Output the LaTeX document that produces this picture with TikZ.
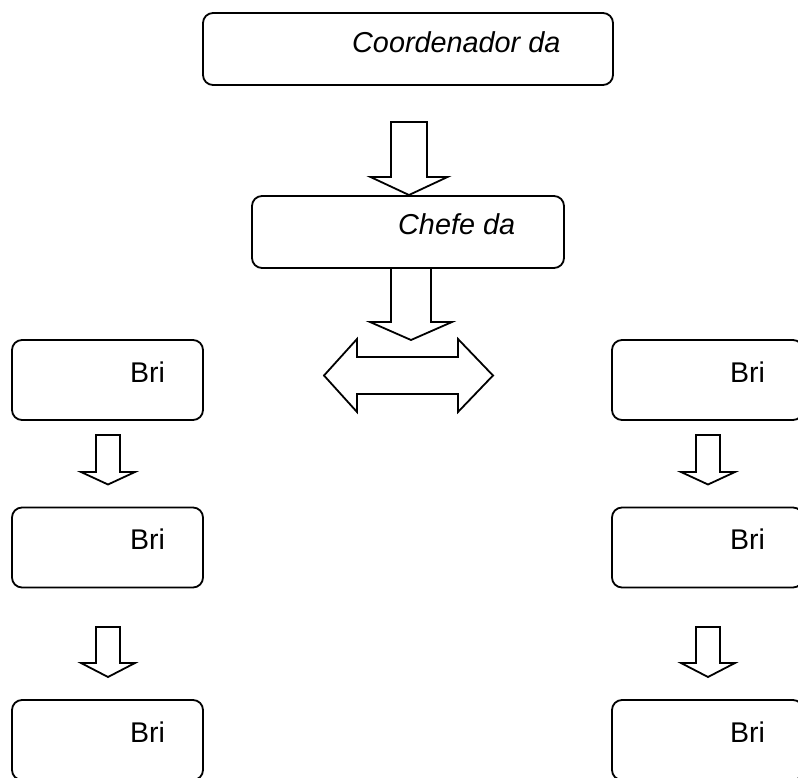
\documentclass[tikz,border=0pt]{standalone}
\usepackage{fontspec}
\setmainfont{Liberation Sans}
\usetikzlibrary{calc}

% hollow block arrow pointing down:
% #1 start (top centre), #2 shaft length, #3 head length, #4 shaft half width, #5 head half width
\newcommand\blkdown[5]{%
  \draw[blk] (#1) ++(-#4,0) -- ++(0,#2) -- ++({#4-#5},0) -- ++(#5,#3)
    -- ++(#5,-#3) -- ++({#4-#5},0) -- ++(0,-#2) -- cycle;}

\tikzset{
  box/.style={draw, rounded corners=10pt, line width=1.8pt, inner sep=0pt},
  lbl/.style={anchor=base west, inner sep=0pt, font=\fontsize{28.5}{34}\selectfont},
  ilbl/.style={anchor=base west, inner sep=0pt, font=\fontsize{28.8}{34}\selectfont\itshape},
  blk/.style={draw, line width=1.8pt, line join=miter, fill=white},
}

\begin{document}
\begin{tikzpicture}[x=1pt,y=-1pt]
\useasboundingbox (0,0) rectangle (798,778);
\clip (0,0) rectangle (798,778);

% boxes
\node[box, minimum width=410pt, minimum height=72pt] (coord) at (408,49) {};
\node[ilbl] (tcoord) at (352,53) {Coordenador da};

\node[box, minimum width=312pt, minimum height=72pt] (chefe) at (408,232) {};
\node[ilbl] (tchefe) at (398,235) {Chefe da};

\node[box, minimum width=191pt, minimum height=80pt] (l1) at (107.5,380) {};
\node[box, minimum width=191pt, minimum height=80pt] (l2) at (107.5,547.5) {};
\node[box, minimum width=191pt, minimum height=80pt] (l3) at (107.5,740) {};
\node[box, minimum width=191pt, minimum height=80pt] (r1) at (707.5,380) {};
\node[box, minimum width=191pt, minimum height=80pt] (r2) at (707.5,547.5) {};
\node[box, minimum width=191pt, minimum height=80pt] (r3) at (707.5,740) {};

\node[lbl] (tl1) at (130,382) {Bri};
\node[lbl] (tl2) at (130,549.5) {Bri};
\node[lbl] (tl3) at (130,742) {Bri};
\node[lbl] (tr1) at (730,382) {Bri};
\node[lbl] (tr2) at (730,549.5) {Bri};
\node[lbl] (tr3) at (730,742) {Bri};

% start points of the block arrows
\coordinate (a1) at (409,122);
\coordinate (a2) at (411,268);
\coordinate (al1) at (108,435);
\coordinate (al2) at (108,627);
\coordinate (ar1) at (708,435);
\coordinate (ar2) at (708,627);

\blkdown{a1}{55}{18}{18}{38.5}
\blkdown{a2}{54}{18}{20}{41}
\blkdown{al1}{37}{12.5}{12}{27}
\blkdown{al2}{36}{14}{12}{27}
\blkdown{ar1}{37}{12.5}{12}{27}
\blkdown{ar2}{36}{14}{12}{27}

% horizontal two-headed block arrow
\coordinate (hub) at (408.5,375.5);
\draw[blk] ($(hub)+(-84.5,0)$) -- ++(33,-36.5) -- ++(0,18) -- ++(101,0)
  -- ++(0,-18) -- ++(35,36.5) -- ++(-35,36.5) -- ++(0,-18) -- ++(-101,0)
  -- ++(0,18) -- cycle;
\end{tikzpicture}
\end{document}
